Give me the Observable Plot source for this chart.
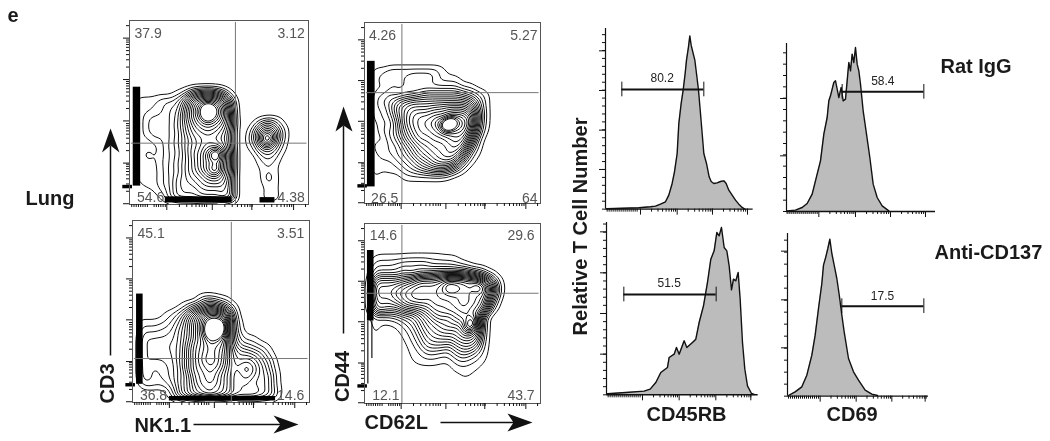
<!DOCTYPE html>
<html><head><meta charset="utf-8">
<script src="https://cdn.jsdelivr.net/npm/d3@7"></script>
<script src="https://cdn.jsdelivr.net/npm/@observablehq/plot@0.6"></script>
<style>
html,body{margin:0;padding:0;background:#fff}
#page{position:relative;width:1050px;height:441px;overflow:hidden;font-family:"Liberation Sans",Arial,sans-serif}
#page svg{position:absolute;background:none;overflow:visible;filter:blur(.3px)}
</style></head><body><div id="page"></div>
<script>
// ---- density levels (count of contour lines crossed), row by row from the top
const nkIgG = [[],[],[],[],[],[],[],[],[],
[0,0,0,0,0,0,.7,2,5,6,6.5,6,4,1],
[0,1,1,1.2,2,2,3,6,10,12,13,12,10,5],
[0,1,1,1.5,2,3,3.4,7,11,14,20,15,12,6],
[0,1,2,2,2.4,3,4,8,11,13.5,20,14,12,7],
[0,1,2,3.2,2,3,4.5,7,10,12,12.5,12,10,7,.3,0,.4,3,5,3,.5],
[0,1,2,3.2,2.2,3,4,7,9,10,11,10,9,6,0,0,2,6,8,6,2],
[0,1,1,2,2.2,3,4.4,6,8,9,9.5,9,8,6,0,0,2.5,6,14,6,2],
[0,1,1,1,2,3.3,4,6.5,8,9,11,11,9,6,0,0,1,4,6,4,1],
[0,1,2,1,2,3,4,6,8.5,10,13,20,11,7,0,0,0,2,3,2,.3],
[0,1,1,1,2.3,3,4.5,6,8,10,12,13,10,7,0,0,0,.8,2,1,0],
[0,1,1,1,2,3.4,4,6.4,8,10,12.5,17,10,7,0,0,0,.3,1.2,.8,0],
[0,1,1,1,2,3,5,6,7.4,8,10,10.5,9,6,0,0,0,0,2.2,.9,0],
[0,.3,.7,1,2.2,3,5.2,6,6,7.5,8,8,8,6,0,0,0,0,.9,.9,0],
[0,0,0,.4,1.2,3,5,5.4,5,6,6.4,6,7,6,0,0,0,0,.9,.9,0],
[0,0,0,0,.6,3,5,5,5,6,6,6,7,6,0,0,0,0,1.2,1.2,0]];
const nkAnti = [[],[],[],[],[],[],[],[],[],[],
[0,0,0,0,0,0,0,0,0,2,3,2,1],
[0,0,0,0,0,0,.6,2,4,6,8,7,5,1.5],
[0,0,0,0,.7,1.5,3,6,9,12,14,14,12,4],
[0,1,.8,1,1.5,2.5,4,7,10,13,17,17,15,5,.7],
[0,2,1.8,2,2.5,3,5,7,10,13,20,24,15,5,1],
[0,3,3,3,3,3.5,5,7,10,12,16,15,13,5,2,.8,.8],
[0,3,3,3.5,3.5,4,5,8,11,12,14,13,12,6,3,2.5,1.8,1,.4],
[0,3,3,3,3,4,5,8.5,11,12.4,14,13,11,7,5,5,4,3,1],
[0,3,3,3,3,3.5,5.5,8,11,13,14.5,13,11,7,6,7,6,4,2.5,.3],
[0,3,2,2,2.5,3.5,5,8.5,11,12,13,12.5,10,7,7,9,7,5,3,.6],
[0,3,2,2,2.5,3.5,5,7,10.5,11,13,11,9,7,6,8,6,5,4,1],
[0,2,2,1.5,2,3,5.4,7,10,11.5,12,11,9.4,7,6,6,5,5,4,1],
[0,0,0,0,.3,2,5,7,9,10,11,10,9,7,6,6,6,5,4,1.5],
[0,0,0,0,0,1.5,5,7,9,10,11,10,9,7,6,6,6,5,4,1.5]];
const cd44IgG = [[],[],[],[],[],[],
[0,1,1,2,2,2,2,2,2,2,1],
[0,1,2,2,2,2,3,3,3,2,1,1,1],
[0,1,1,2,2,2,2,2,2,2,2,2,2,1,1],
[0,2,2,3,2,3,3,4,5,5,5,5,5,4,3,2,1],
[0,2,3,4,6,7,8,8,8,8,8,8,8,8,7,4,1],
[0,2,2,4,7,9,10,10,10,11,11,12,12,12,10,5,1],
[0,2,2,3,6,9,11,12,12,13,13,14,15,15,13,6,1],
[0,1,2,2,5,9,11,12,13,14,17,28,18,16,13,5,1],
[0,1,2,3,5,8,10,12,12,13,14,15,15,15,11,4,.6],
[0,1,1,3,4,7,9,11,11,12,12,13,14,13,8,2],
[0,2,2,2,3,5,7,9,10,11,11,12,13,11,5,1],
[0,1,2,2,3,4,6,8,9,10,11,12,11,7,2,.6],
[0,1,1,1,2,3,4,6,7,9,10,10,8,3,1],
[0,1,.6,1,1,2,3,4,5,6,6,5,3,1],
[0,.6,0,0,0,1,1,1,1,1,1,.6],[],[],[]];
const cd44Anti = [[],[],[],[],
[0,.7,.8,.8,.8,.9,1,1,1,1,.8,.7,.6],
[0,2,2,2,2.5,3,3,3,3,2,2,2,1.6,1,.3],
[0,3,3,3,3,4,3,4,4,5,5,5,5,5,4,3,1.5,.5],
[0,7,7,7,7,8,9,11,11,11,12,13,13,13,12,11,8,4,.8],
[0,9,9,9,10,11,12,13,13,13,14,18,16,15,14,17,13,8,1],
[0,9,9,9,11,12,13,14,13,13,14,14,14,14,14,13,12,6,.6],
[0,8,8,8,9,11,12,12,12,13,13,13,14,15,14,13,11,3],
[0,7,7,6,6,8,8,9,10,12,12,13,13,14,13,12,8,1],
[0,1.5,1.5,1.8,2.5,3.5,4,6,8,10,11,10,12,13,14,10,1],
[0,1,.3,.4,.7,1.8,3,5,7,8,9,10,10,11,20,9,1],
[0,.7,0,0,.3,.9,2,4,6,7,8,8,8,10,11,8,.9],
[0,.5,0,0,0,.5,1.5,3,5,6,6,6,7,8,8,6,.8],
[0,.5,0,0,0,.2,.9,2,4,4,4,3,5,6,6,4,.7],
[0,.5,0,0,0,0,.7,1.2,2,2,1.5,1.5,3,4,3,2,.6],
[0,.5,0,0,0,0,.4,.8,.9,.8,.5,.5,1.5,2,1.5,.9,.4],
[0,0,0,0,0,0,0,0,0,0,0,0,.7,.9,.7,.4],
[0,0,0,0,0,0,0,0,0,0,0,0,0,.6,.4],[],[],[]];

// ---- quadrant percentages
const nkIgGPct = ["37.9","3.12","54.6","4.38"];
const nkAntiPct = ["45.1","3.51","36.8","14.6"];
const cd44IgGPct = ["4.26","5.27","26.5","64"];
const cd44AntiPct = ["14.6","29.6","12.1","43.7"];

// ---- histogram series: channel and cell count
const rb45IgGCh = [3,100,135,150,165,180,190,200,207,215,220,227,233,239,243,249,253,257,263,268,273,279,285,290,295,303,311,317,325,335,345,355,362,370,380,390,400,410,417];
const rb45IgGN = [1,4,7,9,15,22,42,77,112,167,257,317,357,407,447,487,520,492,467,447,407,357,287,227,167,137,97,83,77,79,83,85,77,57,42,27,15,5,1];
const cd69IgGCh = [2,27,47,62,77,92,102,112,122,127,132,137,142,147,152,157,164,170,177,182,187,192,197,202,207,212,217,222,230,240,250,260,272,287,307];
const cd69IgGN = [2,4,12,24,52,112,152,232,282,332,347,367,387,392,367,342,372,332,337,392,447,422,472,447,492,442,422,382,302,232,162,82,42,17,2];
const rb45AntiCh = [3,58,113,131,148,163,183,188,203,210,218,233,241,258,268,278,291,303,313,323,331,338,345,353,361,368,375,381,388,395,401,408,415,423,435,443];
const rb45AntiN = [3,7,11,17,37,67,82,112,122,142,122,162,142,157,167,217,267,337,407,432,487,477,502,442,432,387,315,347,342,367,287,157,77,27,4,1];
const cd69AntiCh = [3,23,43,58,73,83,93,103,108,115,121,127,133,140,148,156,163,170,183,198,213,233,253,270];
const cd69AntiN = [2,13,28,63,123,183,263,338,393,418,443,471,428,393,353,298,243,193,113,73,48,18,6,2];

const histTitles = ["80.2","58.4","51.5","17.5"];

// ---- log-style axis helpers
const logTicks = (starts, w) => starts.flatMap(s => d3.range(2, 10).map(k => s + w * Math.log10(k)));
const cols = 24;
const flowXMajor = [5, 11.1, 16.4, 22];
const flowYMajor = [2.3, 7.7, 13.1, 18.6, 23.9];
const flowXDense = [.3,.6,.9,1.2,1.5,1.8,2.1,2.4,3.3,3.6,3.9,4.2,4.5,4.8];
const flowXMinor = [...flowXDense, ...logTicks([5, 11.1, 16.4], 5.6).filter(v => v < 24), 23.6];
const flowYMinor = logTicks([23.9, 18.6, 13.1, 7.7, 2.3], -5.4).filter(v => v > .5);
const thickTick = {x1: -.9, x2: .4, y1: 21.5, y2: 21.95};

const font = {background: "none", fontFamily: '"Liberation Sans", Arial, sans-serif'};
const page = document.getElementById("page");
const ink = "#111";
const mount = (svg, left, top) => { svg.style.left = left + "px"; svg.style.top = top + "px"; page.appendChild(svg); };

function flow({rows, pct, left, top, w, h, gateX, gateY, bars, labelX, labelRow, topLevel}) {
  const cells = rows.flatMap((r, j) => d3.range(cols).map(i => ({c: i + .5, r: j + .5, v: r[i] ?? 0})));
  const m = {l: 13, t: 2, r: 2, b: 13};
  const [tl, tr, bl, br] = pct;
  const svg = Plot.plot({
    width: w + m.l + m.r, height: h + m.t + m.b,
    marginLeft: m.l, marginTop: m.t, marginRight: m.r, marginBottom: m.b,
    x: {domain: [0, cols]}, y: {domain: [cols, 0]},
    style: font,
    marks: [
      Plot.contour(cells, {x: "c", y: "r", value: "v", interpolate: "barycentric", pixelSize: 1, blur: 3,
        thresholds: d3.range(.5, topLevel, .8), stroke: ink, fill: "none", strokeWidth: 1}),
      Plot.rect([...bars, thickTick], {x1: "x1", x2: "x2", y1: "y1", y2: "y2", fill: "#000"}),
      Plot.ruleX([gateX], {y1: .25, y2: cols, stroke: "#777", strokeWidth: 1}),
      Plot.ruleY([gateY], {x1: .25, x2: cols - .2, stroke: "#777", strokeWidth: 1}),
      Plot.frame({stroke: "#555", strokeWidth: 1}),
      Plot.axisX(flowXMajor, {tickSize: 6, tickFormat: () => "", label: null, stroke: ink}),
      Plot.axisX(flowXMinor, {tickSize: 3, tickFormat: () => "", label: null, stroke: ink}),
      Plot.axisY(flowYMajor, {tickSize: 6, tickFormat: () => "", label: null, stroke: ink}),
      Plot.axisY(flowYMinor, {tickSize: 3, tickFormat: () => "", label: null, stroke: ink}),
      Plot.text([tl], {x: labelX[0], y: labelRow[0], textAnchor: "start", fontSize: 14, fill: "#555"}),
      Plot.text([tr], {x: labelX[1], y: labelRow[0], textAnchor: "end", fontSize: 14, fill: "#555"}),
      Plot.text([bl], {x: labelX[2], y: labelRow[1], textAnchor: "start", fontSize: 14, fill: "#555"}),
      Plot.text([br], {x: labelX[1], y: labelRow[1], textAnchor: "end", fontSize: 14, fill: "#555"})
    ]
  });
  mount(svg, left - m.l, top - m.t);
}

flow({rows: nkIgG, pct: nkIgGPct, left: 129, top: 20, w: 179, h: 184, gateX: 14.2, gateY: 16, topLevel: 14.5,
  bars: [{x1: .5, x2: 1.5, y1: 8.7, y2: 21.6}, {x1: 4.8, x2: 13.75, y1: 23, y2: 23.8}, {x1: 17.5, x2: 19.5, y1: 23.1, y2: 23.8}],
  labelX: [.67, 23.5, 1], labelRow: [1.74, 23.1]});
flow({rows: nkAnti, pct: nkAntiPct, left: 132, top: 220, w: 177, h: 182, gateX: 13.4, gateY: 18.2, topLevel: 15.5,
  bars: [{x1: .55, x2: 1.44, y1: 9.7, y2: 21.6}, {x1: 5, x2: 19.4, y1: 23.2, y2: 23.8}],
  labelX: [.68, 23.3, 1], labelRow: [1.76, 23.1]});
flow({rows: cd44IgG, pct: cd44IgGPct, left: 364, top: 22, w: 176, h: 181, gateX: 5.1, gateY: 9.3, topLevel: 17.5,
  bars: [{x1: .4, x2: 1.45, y1: 5.15, y2: 21.8}],
  labelX: [.6, 23.6, .9], labelRow: [1.67, 23.3]});
flow({rows: cd44Anti, pct: cd44AntiPct, left: 364, top: 223, w: 176, h: 180, gateX: 5.1, gateY: 9.3, topLevel: 15.5,
  bars: [{x1: .4, x2: 1.3, y1: 3.6, y2: 13}, {x1: .45, x2: .6, y1: 13, y2: 21.4}, {x1: 1, x2: 1.15, y1: 13, y2: 18}],
  labelX: [.73, 23.2, 1.05], labelRow: [1.55, 23]});

function hist({ch, n, left, top, xMax, yMax, major, minor, decades, dense, gate, title, label}) {
  const m = {l: 8, t: 2, r: 2, b: 9};
  const w = xMax / 3, h = yMax / 3;
  const pts = ch.map((c, i) => ({c, n: n[i]}));
  const svg = Plot.plot({
    width: w + m.l + m.r, height: h + m.t + m.b,
    marginLeft: m.l, marginTop: m.t, marginRight: m.r, marginBottom: m.b,
    x: {domain: [0, xMax]}, y: {domain: [0, yMax]},
    style: font,
    marks: [
      Plot.areaY(pts, {x: "c", y: "n", fill: "#bcbcbc"}),
      Plot.line(pts, {x: "c", y: "n", stroke: ink, strokeWidth: 1.4}),
      Plot.ruleY([0], {stroke: ink, strokeWidth: 1.4}),
      Plot.ruleX([0], {stroke: ink, strokeWidth: 1.2}),
      Plot.axisY(major, {tickSize: 6, tickFormat: () => "", label: null, stroke: ink}),
      Plot.axisY(minor, {tickSize: 3, tickFormat: () => "", label: null, stroke: ink}),
      Plot.axisX(decades, {tickSize: 6, tickFormat: () => "", label: null, stroke: ink}),
      Plot.axisX([...dense, ...logTicks(decades, decades[1] - decades[0]).filter(v => v < xMax)], {tickSize: 3, tickFormat: () => "", label: null, stroke: ink}),
      Plot.ruleY([gate.y], {x1: gate.x1, x2: gate.x2, stroke: "#111", strokeWidth: 2}),
      Plot.ruleX([gate.x1, gate.x2], {y1: gate.y - 22, y2: gate.y + 22, stroke: "#111", strokeWidth: 1}),
      Plot.text([title], {x: label[0], y: label[1], fontSize: 12, fill: "#222"})
    ]
  });
  mount(svg, left - m.l, top - m.t);
}
const denseFrom = (a, b) => d3.range(a, b, 6);

hist({ch: rb45IgGCh, n: rb45IgGN, left: 605, top: 28, xMax: 443, yMax: 542,
  major: [119, 237, 356, 475], minor: d3.range(0, 542, 23.8),
  decades: [105, 215, 321, 426], dense: denseFrom(5, 100),
  gate: {x1: 49, x2: 295, y: 359}, title: histTitles[0], label: [170, 392]});
hist({ch: cd69IgGCh, n: cd69IgGN, left: 786, top: 43, xMax: 447, yMax: 504,
  major: [167, 339], minor: d3.range(0, 504, 34),
  decades: [97, 207, 312, 417], dense: denseFrom(2, 97),
  gate: {x1: 167, x2: 412, y: 359}, title: histTitles[1], label: [289, 392]});
hist({ch: rb45AntiCh, n: rb45AntiN, left: 606, top: 222, xMax: 455, yMax: 517,
  major: [122, 244, 366, 489], minor: d3.range(0, 517, 24.4),
  decades: [108, 218, 328, 433], dense: denseFrom(5, 103),
  gate: {x1: 52, x2: 329, y: 301}, title: histTitles[2], label: [188, 335]});
hist({ch: cd69AntiCh, n: cd69AntiN, left: 787, top: 233, xMax: 423, yMax: 488,
  major: [145, 289, 435], minor: d3.range(0, 488, 36),
  decades: [98, 206, 313, 413], dense: denseFrom(3, 98),
  gate: {x1: 163, x2: 409, y: 270}, title: histTitles[3], label: [285, 300]});

// ---- page-level lettering and axis arrows
const boldLabels = [
  {t: "e", x: 7, y: 15}, {t: "Lung", x: 25, y: 198},
  {t: "Rat IgG", x: 940, y: 66}, {t: "Anti-CD137", x: 934, y: 252},
  {t: "NK1.1", x: 134, y: 425}, {t: "CD62L", x: 364, y: 422},
  {t: "CD45RB", x: 646, y: 414}, {t: "CD69", x: 826, y: 414}
];
const sideLabels = [
  {t: "CD3", x: 107, y: 383}, {t: "CD44", x: 342, y: 376}, {t: "Relative T Cell Number", x: 580, y: 226}
];
const arrowShafts = [
  {x1: 110, y1: 145, x2: 110, y2: 355}, {x1: 193, y1: 424, x2: 282, y2: 424},
  {x1: 343, y1: 125, x2: 343, y2: 333}, {x1: 440, y1: 422, x2: 515, y2: 422}
];
const arrowHeads = [
  [[110, 128], [101.5, 152], [110, 145], [119, 152]],
  [[298, 424], [273, 415], [280, 424], [273, 433]],
  [[343, 106], [335, 131], [343, 125], [352, 131]],
  [[532, 422], [507, 413], [513, 422], [507, 431]]
].flatMap((pts, id) => pts.map(([x, y]) => ({id, x, y})));

mount(Plot.plot({
  width: 1050, height: 441, margin: 0,
  x: {domain: [0, 1050], axis: null}, y: {domain: [441, 0], axis: null},
  style: font,
  marks: [
    Plot.text(boldLabels, {x: "x", y: "y", text: "t", textAnchor: "start", fontSize: 20, fontWeight: "bold", fill: "#1a1a1a"}),
    Plot.text(sideLabels, {x: "x", y: "y", text: "t", rotate: -90, fontSize: 20, fontWeight: "bold", fill: "#1a1a1a"}),
    Plot.link(arrowShafts, {x1: "x1", y1: "y1", x2: "x2", y2: "y2", stroke: "#111", strokeWidth: 1.5}),
    Plot.line(arrowHeads, {x: "x", y: "y", z: "id", fill: "#111", stroke: "none"})
  ]
}), 0, 0);
</script></body></html>
